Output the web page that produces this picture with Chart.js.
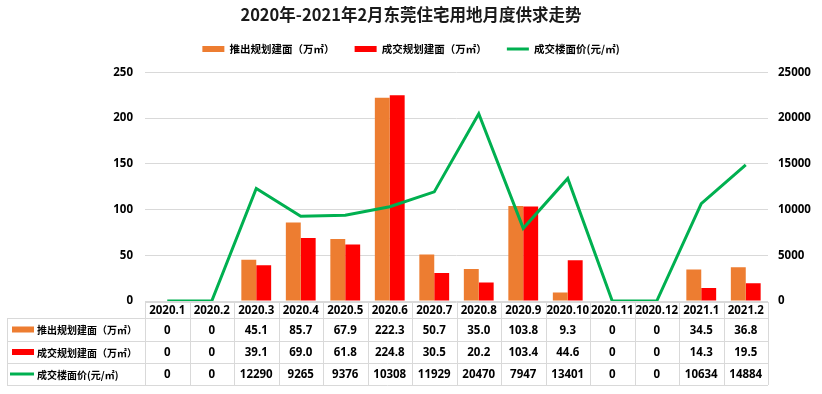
<!DOCTYPE html>
<html><head><meta charset="utf-8">
<script src="https://cdn.jsdelivr.net/npm/chart.js@4"></script>
<style>html,body{margin:0;padding:0;background:#fff;overflow:hidden}#wrap{width:822px;height:394px}</style>
</head><body><div id="wrap"><canvas id="c" width="822" height="394"></canvas></div>
<script>
const categories = ['2020.1','2020.2','2020.3','2020.4','2020.5','2020.6','2020.7','2020.8','2020.9','2020.10','2020.11','2020.12','2021.1','2021.2'];
const supplyArea = [0,0,45.1,85.7,67.9,222.3,50.7,35.0,103.8,9.3,0,0,34.5,36.8];
const dealArea = [0,0,39.1,69.0,61.8,224.8,30.5,20.2,103.4,44.6,0,0,14.3,19.5];
const dealPrice = [0,0,12290,9265,9376,10308,11929,20470,7947,13401,0,0,10634,14884];
const seriesNames = ['推出规划建面（万㎡）','成交规划建面（万㎡）','成交楼面价(元/㎡)'];
const titleText = '2020年-2021年2月东莞住宅用地月度供求走势';
const leftAxis = {min:0, max:250, step:50};
const rightAxis = {min:0, max:25000, step:5000};

const COLORS = ['#ED7D31','#FF0000','#00B050'];
const FONT = '"Noto Sans CJK SC","Noto Sans",sans-serif';
const FONT_NUM = '"Open Sans","Noto Sans CJK SC",sans-serif';

function fmtArea(v){ return v===0 ? '0' : v.toFixed(1); }
function fmtPrice(v){ return String(v); }

const tablePlugin = {
  id:'dataTable',
  afterDraw(chart){
    const ctx = chart.ctx, xs = chart.scales.x, area = chart.chartArea;
    const n = categories.length;
    const colW = xs.getPixelForValue(1) - xs.getPixelForValue(0);
    const tableLeft = 7;
    const gridL = Math.round(xs.getPixelForValue(0) - colW/2);
    const gridR = Math.round(xs.getPixelForValue(n-1) + colW/2);
    const top = Math.round(area.bottom) + 1;
    const rows = [top, top+16, top+38.5, top+61, top+83].map(Math.round);
    ctx.save();
    ctx.strokeStyle = '#d9d9d9';
    ctx.lineWidth = 1;
    ctx.beginPath();
    ctx.moveTo(gridL, rows[0]+0.5); ctx.lineTo(gridR, rows[0]+0.5);
    for (let r=1;r<rows.length;r++){ ctx.moveTo(tableLeft, rows[r]+0.5); ctx.lineTo(gridR, rows[r]+0.5); }
    ctx.moveTo(tableLeft+0.5, rows[1]); ctx.lineTo(tableLeft+0.5, rows[4]);
    for (let i=0;i<=n;i++){
      const x = Math.round(xs.getPixelForValue(0) - colW/2 + i*colW) + 0.5;
      ctx.moveTo(x, rows[0]); ctx.lineTo(x, rows[4]);
    }
    ctx.stroke();

    ctx.fillStyle = '#000';
    ctx.font = 'bold 11.5px ' + FONT_NUM;
    ctx.textAlign = 'center';
    ctx.textBaseline = 'middle';
    const rowData = [categories, supplyArea.map(fmtArea), dealArea.map(fmtArea), dealPrice.map(fmtPrice)];
    for (let r=0;r<4;r++){
      const cy = (rows[r]+rows[r+1])/2 + 1;
      for (let i=0;i<n;i++){
        ctx.fillText(rowData[r][i], xs.getPixelForValue(i), cy);
      }
    }
    ctx.textAlign = 'left';
    ctx.font = 'bold 10px ' + FONT;
    for (let s=0;s<3;s++){
      const cy = (rows[s+1]+rows[s+2])/2 + 1;
      if (s<2){ ctx.fillStyle = COLORS[s]; ctx.fillRect(12, cy-4, 22, 6); }
      else { ctx.strokeStyle = COLORS[s]; ctx.lineWidth = 3; ctx.beginPath(); ctx.moveTo(10, cy-1); ctx.lineTo(34, cy-1); ctx.stroke(); }
      ctx.fillStyle = '#000';
      ctx.fillText(seriesNames[s], 37, cy);
    }
    ctx.restore();
  }
};

new Chart(document.getElementById('c'), {
  data: {
    labels: categories,
    datasets: [
      {type:'bar', label:seriesNames[0], data:supplyArea, backgroundColor:COLORS[0], borderWidth:0, yAxisID:'y', order:1, pointStyle:'rect'},
      {type:'bar', label:seriesNames[1], data:dealArea, backgroundColor:COLORS[1], borderWidth:0, yAxisID:'y', order:1, pointStyle:'rect'},
      {type:'line', label:seriesNames[2], data:dealPrice, borderColor:COLORS[2], backgroundColor:COLORS[2], borderWidth:3, pointRadius:0, tension:0, yAxisID:'y1', order:0, pointStyle:'line'}
    ]
  },
  options: {
    responsive:false, animation:false, devicePixelRatio:1,
    layout:{padding:{left:0,right:0,top:0,bottom:0}},
    datasets:{bar:{categoryPercentage:0.67, barPercentage:1.0}},
    plugins:{
      tooltip:{enabled:false},
      title:{display:true, text:titleText, color:'#1a1a1a', font:{family:FONT, size:16.5, weight:'bold'}, padding:{top:5,bottom:-1}},
      subtitle:{display:true, text:' ', weight:500, font:{size:1, lineHeight:1}, padding:{top:0,bottom:7}},
      legend:{position:'top', labels:{usePointStyle:true, pointStyleWidth:22, boxHeight:6, color:'#000', font:{family:FONT,size:10.5,weight:'bold'}, padding:20, sort:(a,b)=>a.datasetIndex-b.datasetIndex}}
    },
    scales:{
      x:{grid:{display:false}, border:{display:false}, ticks:{display:false}, afterFit(s){ s.height = 93; }},
      y:{position:'left', min:leftAxis.min, max:leftAxis.max, ticks:{stepSize:leftAxis.step, padding:12, color:'#000', font:{family:FONT_NUM,size:11.5,weight:'bold'}}, grid:{color:'#d9d9d9', drawTicks:false}, border:{display:false}, afterFit(s){ s.width = 145; }},
      y1:{position:'right', min:rightAxis.min, max:rightAxis.max, ticks:{stepSize:rightAxis.step, padding:10, color:'#000', font:{family:FONT_NUM,size:11.5,weight:'bold'}, callback:v=>String(v)}, grid:{display:false, drawTicks:false}, border:{display:false}, afterFit(s){ s.width = 54; }}
    }
  },
  plugins:[tablePlugin]
});
</script></body></html>
